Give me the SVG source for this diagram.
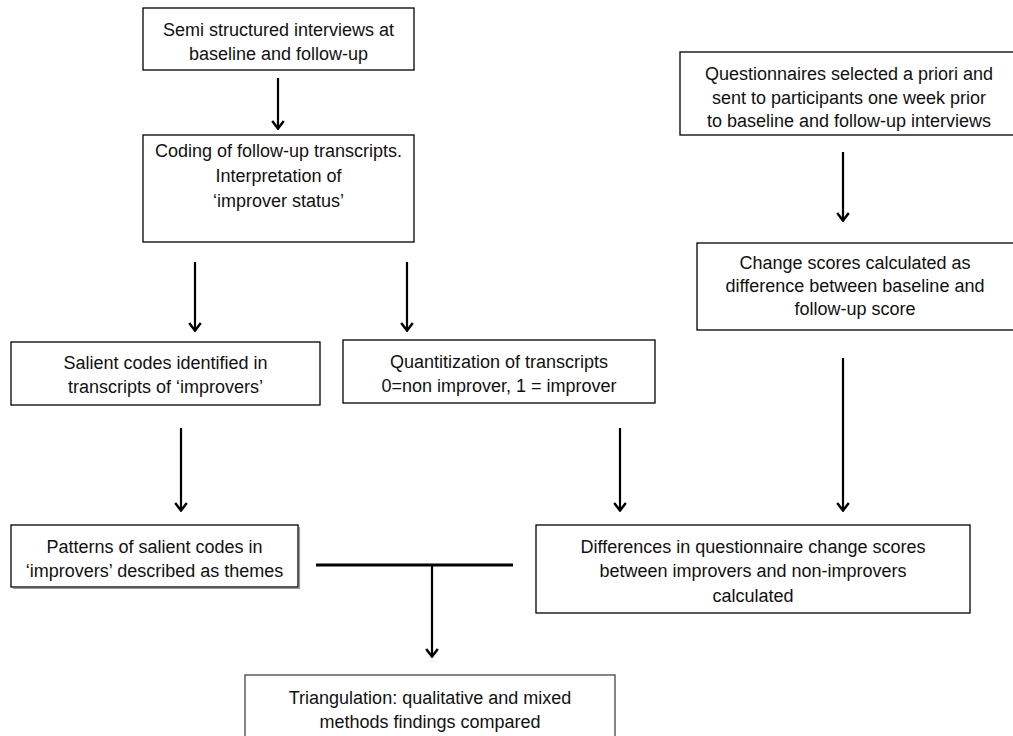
<svg xmlns="http://www.w3.org/2000/svg" width="1013" height="736" viewBox="0 0 1013 736">
  <defs>
    <style>
      .box { fill: #ffffff; stroke: #000000; stroke-width: 1.3; }
      .soft { stroke: #444444; }
      .shadow { fill: none; stroke: #9a9a9a; stroke-width: 1.2; }
      .lbl { font-family: "Liberation Sans", Arial, sans-serif; font-size: 18px; fill: #111111; text-anchor: middle; }
      .edge { stroke: #000000; stroke-width: 2.2; fill: none; }
      .bar { stroke: #000000; stroke-width: 3; fill: none; }
    </style>
    <!-- open chevron head, drawn pointing along +x so orient="auto" turns it with the line -->
    <marker id="chev" viewBox="0 0 10 14" refX="9" refY="7" markerWidth="10" markerHeight="14" markerUnits="userSpaceOnUse" orient="auto">
      <path d="M1,1.2 L8.6,7 L1,12.8" fill="none" stroke="#000000" stroke-width="2.4" stroke-linejoin="miter"/>
    </marker>
  </defs>
  <rect width="1013" height="736" fill="#ffffff"/>

  <g id="connectors">
    <line class="edge" x1="278" y1="78" x2="278" y2="129" marker-end="url(#chev)"/>
    <line class="edge" x1="843" y1="152" x2="843" y2="221" marker-end="url(#chev)"/>
    <line class="edge" x1="195" y1="262" x2="195" y2="331" marker-end="url(#chev)"/>
    <line class="edge" x1="407" y1="262" x2="407" y2="331" marker-end="url(#chev)"/>
    <line class="edge" x1="181" y1="428" x2="181" y2="511" marker-end="url(#chev)"/>
    <line class="edge" x1="620" y1="428" x2="620" y2="511" marker-end="url(#chev)"/>
    <line class="edge" x1="843" y1="358" x2="843" y2="511" marker-end="url(#chev)"/>
    <line class="bar" x1="316" y1="565" x2="513" y2="565"/>
    <line class="edge" x1="432" y1="565" x2="432" y2="657" marker-end="url(#chev)"/>
  </g>

  <g id="interviews">
    <rect class="box" x="143" y="8" width="271" height="62"/>
    <text class="lbl" x="278.5" y="36">Semi structured interviews at</text>
    <text class="lbl" x="278.5" y="60">baseline and follow-up</text>
  </g>

  <g id="coding">
    <rect class="box" x="143" y="135" width="271" height="107"/>
    <text class="lbl" x="278.5" y="157">Coding of follow-up transcripts.</text>
    <text class="lbl" x="278.5" y="182">Interpretation of</text>
    <text class="lbl" x="278.5" y="207">‘improver status’</text>
  </g>

  <g id="questionnaires">
    <rect class="box" x="680" y="52" width="340" height="83"/>
    <text class="lbl" x="849" y="80">Questionnaires selected a priori and</text>
    <text class="lbl" x="849" y="104">sent to participants one week prior</text>
    <text class="lbl" x="849" y="127">to baseline and follow-up interviews</text>
  </g>

  <g id="change-scores">
    <rect class="box" x="697" y="243" width="320" height="87"/>
    <text class="lbl" x="855" y="269">Change scores calculated as</text>
    <text class="lbl" x="855" y="292">difference between baseline and</text>
    <text class="lbl" x="855" y="315">follow-up score</text>
  </g>

  <g id="salient-codes">
    <rect class="box" x="11" y="342" width="309" height="63"/>
    <text class="lbl" x="165.5" y="369">Salient codes identified in</text>
    <text class="lbl" x="165.5" y="393">transcripts of ‘improvers’</text>
  </g>

  <g id="quantitization">
    <rect class="box" x="343" y="340" width="312" height="63"/>
    <text class="lbl" x="499" y="368">Quantitization of transcripts</text>
    <text class="lbl" x="499" y="392">0=non improver, 1 = improver</text>
  </g>

  <g id="patterns">
    <path class="shadow" d="M299.5,527 V588.5 H13"/>
    <rect class="box" x="11" y="525" width="287" height="62"/>
    <text class="lbl" x="154.5" y="553">Patterns of salient codes in</text>
    <text class="lbl" x="154.5" y="577">‘improvers’ described as themes</text>
  </g>

  <g id="differences">
    <rect class="box" x="536" y="525" width="434" height="88"/>
    <text class="lbl" x="753" y="553">Differences in questionnaire change scores</text>
    <text class="lbl" x="753" y="577">between improvers and non-improvers</text>
    <text class="lbl" x="753" y="602">calculated</text>
  </g>

  <g id="triangulation">
    <rect class="box soft" x="245" y="675" width="370" height="70"/>
    <text class="lbl" x="430" y="704">Triangulation: qualitative and mixed</text>
    <text class="lbl" x="430" y="728">methods findings compared</text>
  </g>
</svg>
